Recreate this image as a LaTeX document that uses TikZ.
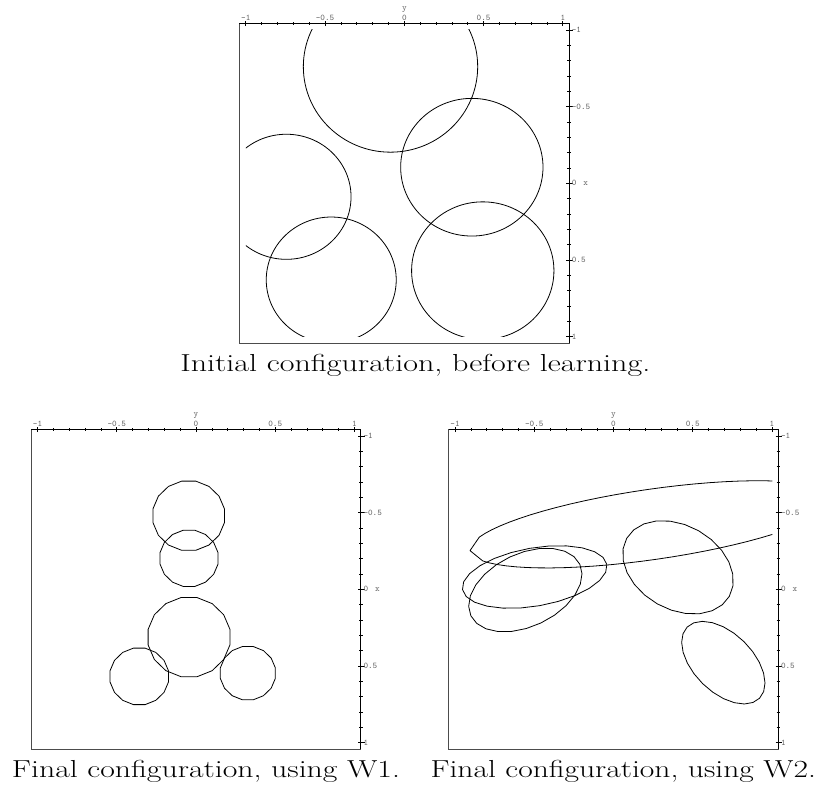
\documentclass[tikz,border=0pt]{standalone}
\usepackage{graphicx}
\newcommand\plotaxes[1]{%
  \draw[framebox] (-1.04,-1.042) rectangle (1.04,1.042);
  \draw[axisline] (-1.04,-1.042) -- (1.04,-1.042) -- (1.04,1.042);
  \foreach \k in {-10,...,10}{%
    \draw[tickline] (\k/10,-1.042) +(0pt,-1pt) -- +(0pt,1pt);
    \draw[tickline] (1.04,\k/10) +(-1.25pt,0pt) -- +(1.25pt,0pt);
  }
  \foreach \k/\lab in {-10/-1,-5/-0.5,0/0,5/0.5,10/1}{%
    \draw[tickline] (\k/10,-1.042) +(0pt,-2pt) -- +(0pt,2pt);
    \draw[tickline] (1.04,\k/10) +(-2pt,0pt) -- +(3pt,0pt);
    \node[ticklab, anchor=base] (#1t\k) at ([yshift=2pt]\k/10,-1.042) {\lab};
    \node[ticklab, anchor=west] (#1r\k) at ([xshift=1.8pt]1.04,\k/10) {\lab};
  }
  \node[ticklab, anchor=base] (#1y) at ([yshift=10pt]0,-1.042) {y};
  \node[ticklab, anchor=west] (#1x) at ([xshift=10.5pt]1.04,0) {x};
}
\newcommand\polycirc[3]{\draw[curve] plot[domain=11.25:371.25, samples=17, variable=\t] ({#1+#3*cos(\t)},{#2+#3*sin(\t)}) -- cycle;}
% rotated ellipse: cx, cy, a, b, theta (screen coords, y down)
\newcommand\rotell[5]{\draw[curve] plot[domain=0:360, samples=25, variable=\t] ({#1+#3*cos(#5)*cos(\t)-#4*sin(#5)*sin(\t)},{#2+#3*sin(#5)*cos(\t)+#4*cos(#5)*sin(\t)}) -- cycle;}
\begin{document}
\begin{tikzpicture}[x=0.75pt,y=-0.75pt,
  curve/.style={black, line width=0.6pt, line join=round},
  framebox/.style={draw=black!70, line width=0.75pt},
  axisline/.style={black, line width=0.9pt},
  tickline/.style={black, line width=0.5pt},
  ticklab/.style={font=\fontsize{6.5}{7.5}\selectfont\ttfamily, text=black!60, inner sep=0pt},
  caption/.style={inner sep=0pt, anchor=base west, font=\fontsize{17.28}{20}\selectfont}]
\useasboundingbox (0,0) rectangle (817,788);

% ---------- top plot ----------
\begin{scope}[shift={(404.3,183.3)}, x=118.875pt, y=-114.975pt]
  \plotaxes{a}
  \begin{scope}
    \clip (-1,-1) rectangle (1,1);
    \draw[curve] (-0.087,-0.761) ellipse [x radius=0.550, y radius=0.558];
    \draw[curve] (-0.744,0.088) ellipse [x radius=0.408, y radius=0.408];
    \draw[curve] (0.426,-0.105) ellipse [x radius=0.449, y radius=0.449];
    \draw[curve] (-0.461,0.63) ellipse [x radius=0.41, y radius=0.41];
    \draw[curve] (0.495,0.57) ellipse [x radius=0.449, y radius=0.449];
  \end{scope}
\end{scope}

% ---------- bottom left plot ----------
\begin{scope}[shift={(196,589.3)}, x=118.875pt, y=-114.975pt]
  \plotaxes{b}
  \polycirc{-0.046}{-0.480}{0.23}
  \polycirc{-0.044}{-0.202}{0.187}
  \polycirc{-0.044}{0.312}{0.263}
  \polycirc{-0.358}{0.568}{0.188}
  \polycirc{0.327}{0.547}{0.177}
\end{scope}

% ---------- bottom right plot ----------
\begin{scope}[shift={(613.5,589.3)}, x=118.875pt, y=-114.975pt]
  \plotaxes{c}
\end{scope}
\begin{scope}[shift={(440,420)}, x=0.25pt, y=-0.25pt]
  \begin{scope}
    \clip (0,0) rectangle (997,1000);
    \draw[curve] plot[variable=\t, samples at={0,5,...,160,180,200,205,...,360}]
      ({637+552.6*cos(-8.2)*cos(\t)-105.5*sin(-8.2)*sin(\t)},{313+552.6*sin(-8.2)*cos(\t)+105.5*cos(-8.2)*sin(\t)});
  \end{scope}
  \rotell{284}{471}{219.8}{87.3}{-9.9}
  \rotell{256}{510}{180.8}{109.4}{-25.3}
  \rotell{714}{442}{176.9}{126}{29.5}
  \rotell{850}{728}{152.3}{88.4}{44.5}
\end{scope}

% ---------- captions ----------
\node[caption] (capA) at (180,371.7) {\resizebox{352.5pt}{12.95pt}{Initial configuration, before learning.}};
\node[caption] (capB) at (11.7,777.3) {\resizebox{291pt}{12.95pt}{Final configuration, using W1.}};
\node[caption] (capC) at (430.3,777.3) {\resizebox{289pt}{12.95pt}{Final configuration, using W2.}};
\end{tikzpicture}
\end{document}
